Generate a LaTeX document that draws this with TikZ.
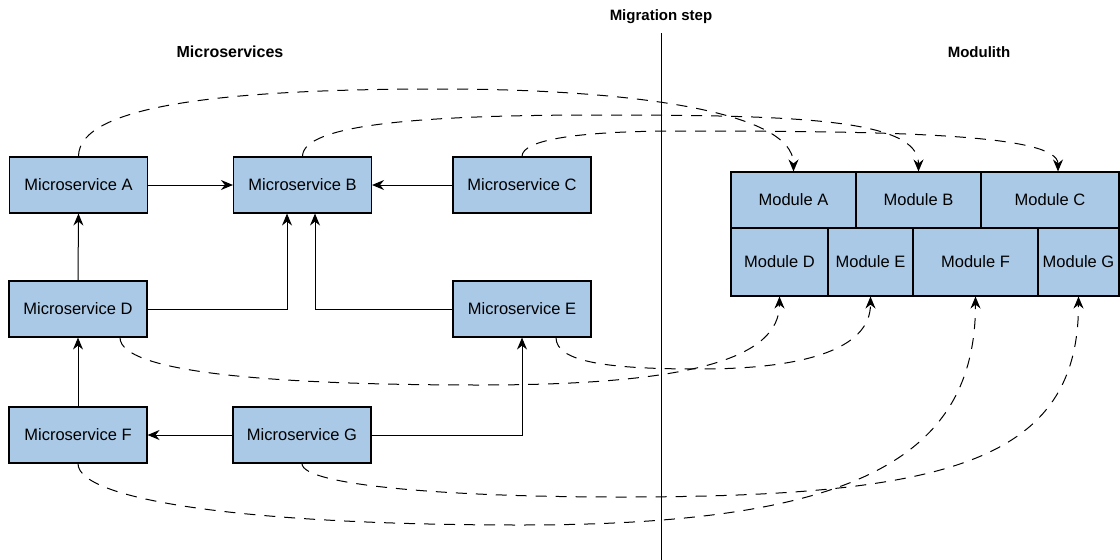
\documentclass[tikz,border=0pt]{standalone}
\usepackage{fontspec}
\setmainfont{Liberation Sans}
\usetikzlibrary{arrows.meta}
\definecolor{boxfill}{RGB}{170,201,230}
\tikzset{
  svc/.style={draw=black, line width=1.1pt, fill=boxfill, minimum width=138pt, minimum height=56pt,
    inner sep=0pt, font=\fontsize{16.5}{19}\selectfont},
  modbox/.style={draw=black, line width=1.1pt, fill=boxfill, inner sep=0pt,
    font=\fontsize{16.5}{19}\selectfont},
  heading/.style={font=\fontsize{15}{18}\selectfont\bfseries},
  dep/.style={line width=1pt, -{Stealth[length=12pt,width=10pt,inset=4pt]}},
  migr/.style={dep, dash pattern=on 11pt off 9pt},
}
\begin{document}
\begin{tikzpicture}[x=1pt, y=-1pt]
\useasboundingbox (0,0) rectangle (1120,560);

% headings and divider
\node[heading] (tmig) at (661,17) {Migration step};
\node[heading, font=\fontsize{16}{19}\selectfont\bfseries] (tms) at (230,52) {Microservices};
\node[heading] (tmod) at (979,52) {Modulith};
\coordinate (divtop) at (661,33);
\coordinate (divbot) at (661,560);
\draw[line width=1pt] (divtop) -- (divbot);

% microservices
\node[svc] (msA) at (78.5,185) {Microservice A};
\node[svc] (msB) at (302.5,185) {Microservice B};
\node[svc] (msC) at (522,185) {Microservice C};
\node[svc] (msD) at (78,309) {Microservice D};
\node[svc] (msE) at (522,309) {Microservice E};
\node[svc] (msF) at (78,435) {Microservice F};
\node[svc] (msG) at (302,435) {Microservice G};

% modulith
\node[modbox, minimum width=125pt, minimum height=56pt] (modA) at (793.5,200) {Module A};
\node[modbox, minimum width=125pt, minimum height=56pt] (modB) at (918.5,200) {Module B};
\node[modbox, minimum width=138pt, minimum height=56pt] (modC) at (1050,200) {Module C};
\node[modbox, minimum width=97pt, minimum height=68pt] (modD) at (779.5,262) {Module D};
\node[modbox, minimum width=85pt, minimum height=68pt] (modE) at (870.5,262) {Module E};
\node[modbox, minimum width=125pt, minimum height=68pt] (modF) at (975.5,262) {Module F};
\node[modbox, minimum width=81pt, minimum height=68pt] (modG) at (1078.5,262) {Module G};

% dependencies between microservices
\draw[dep] (msA.east) -- (msB.west);
\draw[dep] (msC.west) -- (msB.east);
\draw[dep] (msD.north) -- (msA.south);
\draw[dep] (msF.north) -- (msD.south);
\draw[dep] (msG.west) -- (msF.east);
\draw[dep] (msD.east) -| ([xshift=-15.5pt]msB.south);
\draw[dep] (msE.west) -| ([xshift=12.5pt]msB.south);
\draw[dep] (msG.east) -| (msE.south);

% migration of each service into its module
\coordinate (wA) at (440,89);
\coordinate (wB) at (600,115);
\coordinate (wC) at (680,131);
\coordinate (wD) at (480,385);
\coordinate (wE) at (700,369);
\coordinate (wF) at (520,525);
\coordinate (wG) at (620,497);

\draw[migr] (msA.north) .. controls +(0,-52) and +(-210,0) .. (wA)
  .. controls +(180,0) and +(0,-62) .. (modA.north);
\draw[migr] (msB.north) .. controls +(0,-32) and +(-180,0) .. (wB)
  .. controls +(200,0) and +(0,-52) .. (modB.north);
\draw[migr] (msC.north) .. controls +(0,-17) and +(-100,0) .. (wC)
  .. controls +(220,0) and +(0,-37) .. ([xshift=8pt]modC.north);
\draw[migr] ([xshift=42pt]msD.south) .. controls +(0,38) and +(-180,0) .. (wD)
  .. controls +(210,0) and +(0,62) .. (modD.south);
\draw[migr] ([xshift=34pt]msE.south) .. controls +(0,25) and +(-90,0) .. (wE)
  .. controls +(100,0) and +(0,54) .. (modE.south);
\draw[migr] (msF.south) .. controls +(0,37) and +(-270,0) .. (wF)
  .. controls +(330,0) and +(0,164) .. (modF.south);
\draw[migr] (msG.south) .. controls +(0,22) and +(-170,0) .. (wG)
  .. controls +(330,0) and +(0,164) .. (modG.south);
\end{tikzpicture}
\end{document}
